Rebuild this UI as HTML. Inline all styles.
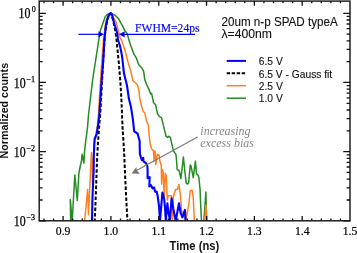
<!DOCTYPE html>
<html><head><meta charset="utf-8"><style>
html,body{margin:0;padding:0;background:#fff;}
svg{display:block;will-change:transform;}
</style></head><body>
<svg width="357" height="253" viewBox="0 0 357 253">
<rect width="357" height="253" fill="#fff"/>
<defs><clipPath id="c"><rect x="39.2" y="1.5" width="310.8" height="219.3"/></clipPath></defs>
<g clip-path="url(#c)" fill="none" stroke-linejoin="round" stroke-linecap="round">
<polyline points="70.7,222.0 70.3,199.5 72.2,221.5 74.8,175.0 77.3,200.5 78.9,173.0 80.5,165.0 81.5,160.8 82.1,154.2 83.9,163.1 84.5,151.9 85.6,141.9 86.7,134.0 87.5,127.6 88.5,115.0 90.6,97.0 92.6,80.0 95.7,60.0 98.0,45.0 98.8,40.0 99.4,35.0 100.1,31.5 102.9,23.2 105.2,16.9 106.7,15.0 108.3,14.0 110.5,13.3 113.7,14.6 115.3,15.6 117.2,17.2 118.8,19.2 120.5,22.3 122.5,25.8 124.9,30.6 127.2,33.7 128.0,36.6 128.9,40.0 130.9,45.9 133.8,53.8 136.2,57.8 138.8,64.7 141.7,67.7 143.7,71.6 144.7,79.5 146.7,84.5 149.6,90.9 150.6,93.9 151.6,93.3 153.6,102.8 155.6,104.8 157.5,113.7 159.5,116.6 161.5,117.6 162.5,121.6 164.4,129.7 166.1,136.3 167.6,137.4 168.7,136.3 170.4,137.4 171.3,141.7 172.6,147.2 173.4,150.7 176.0,154.7 176.5,160.0 177.2,169.5 179.1,170.6 180.9,178.5 183.4,157.1 184.6,169.0 186.2,183.2 187.8,184.0 188.6,183.2 190.2,165.0 191.0,165.8 193.3,177.7 195.4,161.1 196.5,173.7 198.1,175.3 198.9,177.7 199.2,180.8 200.1,190.0 200.5,200.8 201.5,222.0 203.8,222.0 205.9,192.0 206.6,222.0" stroke="#238c23" stroke-width="1.5"/>
<polyline points="84.6,222.0 87.6,189.5 88.5,215.0 90.1,180.0 91.4,152.5 92.2,170.0 92.7,185.0 93.3,160.0 94.2,143.0 95.4,138.7 97.3,126.0 98.3,117.0 100.5,80.0 101.9,60.0 103.3,42.0 104.2,34.0 105.2,26.0 106.5,20.0 107.8,16.5 109.5,13.8 111.0,13.5 113.0,16.5 116.6,23.2 118.5,31.7 120.3,38.0 121.5,40.0 124.9,49.9 127.9,61.7 130.9,71.6 132.8,80.5 136.2,83.5 137.4,85.0 138.8,90.0 139.8,98.8 141.7,106.7 143.3,111.7 144.7,112.7 146.7,121.6 147.7,123.5 148.3,125.0 149.1,134.9 150.3,144.8 151.9,149.5 153.4,150.3 154.2,160.6 155.0,151.1 155.8,164.5 157.4,154.2 159.0,155.0 159.8,160.6 161.3,166.0 161.6,184.0 162.3,169.5 163.2,172.0 164.2,196.0 165.3,173.2 166.3,176.0 167.3,200.0 168.3,195.7 171.4,195.7 172.4,221.0 173.4,196.7 175.5,189.5 177.5,189.5 179.0,184.4 180.6,196.7 181.6,211.1 183.7,214.2 185.7,221.0 188.7,204.9 190.3,190.5 192.3,190.5 193.3,198.7 194.4,222.0 204.6,222.0 205.9,205.0 207.1,222.0" stroke="#ff8020" stroke-width="1.5"/>
<polyline points="94.7,222.0 94.7,221.3 94.8,220.6 94.8,219.9 94.8,219.2 94.8,218.5 94.9,217.8 94.9,217.1 94.9,216.4 95.0,215.7 95.0,215.0 95.0,214.3 95.1,213.6 95.1,212.9 95.1,212.2 95.1,211.5 95.2,210.8 95.2,210.1 95.2,209.4 95.3,208.7 95.3,208.0 95.3,207.3 95.3,206.6 95.4,205.9 95.4,205.2 95.4,204.6 95.5,203.9 95.5,203.2 95.5,202.5 95.5,201.8 95.6,201.1 95.6,200.4 95.6,199.7 95.6,199.0 95.7,198.3 95.7,197.6 95.7,196.9 95.8,196.2 95.8,195.5 95.8,194.8 95.8,194.1 95.9,193.4 95.9,192.7 95.9,192.0 95.9,191.3 96.0,190.6 96.0,189.9 96.0,189.2 96.1,188.5 96.1,187.8 96.1,187.1 96.1,186.4 96.2,185.7 96.2,185.0 96.2,184.3 96.2,183.6 96.3,182.9 96.3,182.2 96.3,181.5 96.3,180.8 96.4,180.1 96.4,179.4 96.4,178.7 96.4,178.0 96.4,177.3 96.5,176.6 96.5,175.9 96.5,175.2 96.5,174.5 96.6,173.8 96.6,173.1 96.6,172.4 96.6,171.7 96.7,171.0 96.7,170.3 96.7,169.7 96.7,169.0 96.8,168.3 96.8,167.6 96.8,166.9 96.8,166.2 96.9,165.5 96.9,164.8 96.9,164.1 96.9,163.4 97.0,162.7 97.0,162.0 97.0,161.3 97.1,160.6 97.1,159.9 97.1,159.2 97.1,158.5 97.2,157.8 97.2,157.1 97.2,156.4 97.3,155.7 97.3,155.0 97.3,154.3 97.4,153.6 97.4,152.9 97.4,152.2 97.5,151.5 97.5,150.8 97.6,150.1 97.6,149.4 97.6,148.7 97.7,148.0 97.7,147.3 97.8,146.6 97.8,145.9 97.8,145.2 97.9,144.5 97.9,143.8 98.0,143.1 98.0,142.4 98.1,141.7 98.1,141.0 98.2,140.3 98.2,139.6 98.3,138.9 98.3,138.2 98.4,137.5 98.4,136.8 98.5,136.1 98.5,135.4 98.6,134.8 98.6,134.1 98.7,133.4 98.7,132.7 98.8,132.0 98.8,131.3 98.9,130.6 98.9,129.9 99.0,129.2 99.0,128.5 99.1,127.8 99.1,127.1 99.2,126.4 99.2,125.7 99.3,125.0 99.4,124.3 99.4,123.6 99.5,122.9 99.5,122.2 99.6,121.5 99.7,120.8 99.7,120.1 99.8,119.4 99.8,118.7 99.9,118.0 100.0,117.3 100.0,116.6 100.1,115.9 100.1,115.2 100.2,114.5 100.2,113.8 100.3,113.1 100.3,112.4 100.4,111.7 100.4,111.0 100.4,110.3 100.5,109.6 100.5,108.9 100.6,108.2 100.6,107.5 100.7,106.8 100.7,106.1 100.7,105.4 100.8,104.7 100.8,104.0 100.9,103.3 100.9,102.6 100.9,101.9 101.0,101.2 101.0,100.5 101.0,99.9 101.1,99.2 101.1,98.5 101.2,97.8 101.2,97.1 101.2,96.4 101.3,95.7 101.3,95.0 101.3,94.3 101.4,93.6 101.4,92.9 101.4,92.2 101.5,91.5 101.5,90.8 101.6,90.1 101.6,89.4 101.6,88.7 101.7,88.0 101.7,87.3 101.7,86.6 101.8,85.9 101.8,85.2 101.8,84.5 101.9,83.8 101.9,83.1 102.0,82.4 102.0,81.7 102.0,81.0 102.1,80.3 102.1,79.6 102.2,78.9 102.2,78.2 102.2,77.5 102.3,76.8 102.3,76.1 102.4,75.4 102.4,74.7 102.4,74.0 102.5,73.3 102.5,72.6 102.6,71.9 102.6,71.2 102.6,70.5 102.7,69.8 102.7,69.1 102.8,68.4 102.8,67.7 102.8,67.0 102.9,66.3 102.9,65.6 103.0,65.0 103.0,64.3 103.0,63.6 103.1,62.9 103.1,62.2 103.2,61.5 103.2,60.8 103.2,60.1 103.3,59.4 103.3,58.7 103.4,58.0 103.4,57.3 103.5,56.6 103.5,55.9 103.5,55.2 103.6,54.5 103.6,53.8 103.7,53.1 103.7,52.4 103.8,51.7 103.8,51.0 103.8,50.3 103.9,49.6 103.9,48.9 104.0,48.2 104.0,47.5 104.1,46.8 104.1,46.1 104.2,45.4 104.2,44.7 104.3,44.0 104.3,43.3 104.4,42.6 104.4,41.9 104.5,41.2 104.5,40.5 104.6,39.8 104.6,39.1 104.7,38.4 104.7,37.7 104.8,37.0 104.8,36.3 104.9,35.6 105.0,34.9 105.0,34.2 105.1,33.5 105.2,32.8 105.3,32.1 105.4,31.4 105.5,30.7 105.6,30.1 105.7,29.4 105.8,28.7 105.9,28.0 106.0,27.3 106.2,26.6 106.3,25.9 106.4,25.2 106.5,24.5 106.7,23.8 106.8,23.1 106.9,22.4 107.1,21.7 107.2,21.0 107.4,20.3 107.5,19.6 107.7,18.9 107.9,18.2 108.2,17.5 108.5,16.8 108.8,16.1 109.2,15.4 109.7,14.7 110.1,14.0 110.6,13.3 110.9,14.0 111.2,14.7 111.5,15.4 111.8,16.1 112.0,16.8 112.2,17.5 112.5,18.2 112.7,18.9 112.8,19.6 113.0,20.3 113.2,21.0 113.4,21.7 113.5,22.4 113.7,23.1 113.8,23.8 114.0,24.5 114.1,25.2 114.2,25.9 114.4,26.6 114.5,27.3 114.7,28.0 114.8,28.7 114.9,29.4 115.1,30.1 115.2,30.7 115.3,31.4 115.4,32.1 115.6,32.8 115.7,33.5 115.8,34.2 115.9,34.9 116.0,35.6 116.1,36.3 116.2,37.0 116.3,37.7 116.3,38.4 116.4,39.1 116.5,39.8 116.6,40.5 116.6,41.2 116.7,41.9 116.8,42.6 116.8,43.3 116.9,44.0 117.0,44.7 117.1,45.4 117.1,46.1 117.2,46.8 117.3,47.5 117.4,48.2 117.4,48.9 117.5,49.6 117.6,50.3 117.6,51.0 117.7,51.7 117.8,52.4 117.8,53.1 117.9,53.8 118.0,54.5 118.1,55.2 118.1,55.9 118.2,56.6 118.3,57.3 118.3,58.0 118.4,58.7 118.5,59.4 118.5,60.1 118.6,60.8 118.7,61.5 118.7,62.2 118.8,62.9 118.9,63.6 118.9,64.3 119.0,65.0 119.0,65.6 119.1,66.3 119.2,67.0 119.2,67.7 119.3,68.4 119.3,69.1 119.4,69.8 119.5,70.5 119.5,71.2 119.6,71.9 119.6,72.6 119.7,73.3 119.7,74.0 119.8,74.7 119.9,75.4 119.9,76.1 120.0,76.8 120.0,77.5 120.1,78.2 120.1,78.9 120.2,79.6 120.2,80.3 120.3,81.0 120.3,81.7 120.4,82.4 120.4,83.1 120.5,83.8 120.5,84.5 120.6,85.2 120.6,85.9 120.6,86.6 120.7,87.3 120.7,88.0 120.8,88.7 120.8,89.4 120.9,90.1 120.9,90.8 120.9,91.5 121.0,92.2 121.0,92.9 121.1,93.6 121.1,94.3 121.1,95.0 121.2,95.7 121.2,96.4 121.2,97.1 121.3,97.8 121.3,98.5 121.4,99.2 121.4,99.9 121.4,100.5 121.5,101.2 121.5,101.9 121.5,102.6 121.6,103.3 121.6,104.0 121.6,104.7 121.7,105.4 121.7,106.1 121.7,106.8 121.7,107.5 121.8,108.2 121.8,108.9 121.8,109.6 121.9,110.3 121.9,111.0 121.9,111.7 121.9,112.4 122.0,113.1 122.0,113.8 122.0,114.5 122.0,115.2 122.1,115.9 122.1,116.6 122.1,117.3 122.1,118.0 122.2,118.7 122.2,119.4 122.2,120.1 122.3,120.8 122.3,121.5 122.3,122.2 122.4,122.9 122.4,123.6 122.4,124.3 122.4,125.0 122.5,125.7 122.5,126.4 122.5,127.1 122.6,127.8 122.6,128.5 122.7,129.2 122.7,129.9 122.7,130.6 122.8,131.3 122.8,132.0 122.9,132.7 122.9,133.4 123.0,134.1 123.0,134.8 123.1,135.4 123.1,136.1 123.2,136.8 123.2,137.5 123.3,138.2 123.3,138.9 123.4,139.6 123.4,140.3 123.5,141.0 123.5,141.7 123.5,142.4 123.6,143.1 123.6,143.8 123.7,144.5 123.7,145.2 123.7,145.9 123.8,146.6 123.8,147.3 123.8,148.0 123.9,148.7 123.9,149.4 124.0,150.1 124.0,150.8 124.0,151.5 124.1,152.2 124.1,152.9 124.1,153.6 124.2,154.3 124.2,155.0 124.2,155.7 124.3,156.4 124.3,157.1 124.3,157.8 124.4,158.5 124.4,159.2 124.4,159.9 124.5,160.6 124.5,161.3 124.5,162.0 124.6,162.7 124.6,163.4 124.6,164.1 124.6,164.8 124.7,165.5 124.7,166.2 124.7,166.9 124.8,167.6 124.8,168.3 124.8,169.0 124.9,169.7 124.9,170.3 124.9,171.0 125.0,171.7 125.0,172.4 125.0,173.1 125.0,173.8 125.1,174.5 125.1,175.2 125.1,175.9 125.2,176.6 125.2,177.3 125.2,178.0 125.3,178.7 125.3,179.4 125.3,180.1 125.4,180.8 125.4,181.5 125.4,182.2 125.5,182.9 125.5,183.6 125.5,184.3 125.6,185.0 125.6,185.7 125.6,186.4 125.7,187.1 125.7,187.8 125.7,188.5 125.8,189.2 125.8,189.9 125.8,190.6 125.9,191.3 125.9,192.0 125.9,192.7 126.0,193.4 126.0,194.1 126.0,194.8 126.1,195.5 126.1,196.2 126.2,196.9 126.2,197.6 126.2,198.3 126.3,199.0 126.3,199.7 126.3,200.4 126.4,201.1 126.4,201.8 126.4,202.5 126.5,203.2 126.5,203.9 126.6,204.6 126.6,205.2 126.6,205.9 126.7,206.6 126.7,207.3 126.7,208.0 126.8,208.7 126.8,209.4 126.9,210.1 126.9,210.8 126.9,211.5 127.0,212.2 127.0,212.9 127.0,213.6 127.1,214.3 127.1,215.0 127.2,215.7 127.2,216.4 127.2,217.1 127.3,217.8 127.3,218.5 127.3,219.2 127.4,219.9 127.4,220.6 127.5,221.3 127.5,222.0" stroke="#000" stroke-width="2" stroke-dasharray="3.5 2" stroke-linecap="butt"/>
<polyline points="92.0,222.0 92.4,200.0 93.0,185.0 93.7,170.0 93.8,155.0 94.6,139.0 96.7,134.0 98.2,124.5 99.3,115.0 100.3,100.0 101.8,78.0 103.3,60.0 104.3,42.0 105.0,34.0 105.7,27.0 107.1,20.0 108.9,15.2 110.7,13.1 111.8,14.0 112.6,17.5 115.0,25.8 117.3,33.5 118.0,40.0 120.0,45.9 122.0,55.8 124.0,73.6 125.5,79.5 126.9,85.0 128.9,98.8 130.9,106.7 132.8,118.6 134.2,131.4 137.5,133.5 139.6,140.8 139.9,153.9 140.9,157.4 141.9,160.0 143.2,157.8 143.5,161.3 144.9,162.3 146.4,163.8 147.4,166.3 147.6,170.0 147.6,178.2 149.7,177.2 149.3,186.5 150.8,185.0 152.5,188.3 154.1,187.5 155.0,191.6 156.6,191.6 157.5,195.0 159.1,206.6 160.0,221.0 162.4,192.5 164.1,198.3 164.9,206.6 165.8,220.0 167.4,203.3 168.3,211.6 169.9,220.0 171.6,198.3 173.2,208.2 175.7,221.0 179.0,203.3 180.7,213.2 182.4,217.4 184.9,209.9 185.7,222.0" stroke="#0000ff" stroke-width="2.1"/>
</g>
<g stroke="#111" stroke-width="1.3" fill="none">
<path d="M43.98,220.8V218.60M43.98,1.1V3.30M53.54,220.8V218.60M53.54,1.1V3.30M63.11,220.8V216.10M63.11,1.1V5.80M72.67,220.8V218.60M72.67,1.1V3.30M82.23,220.8V218.60M82.23,1.1V3.30M91.80,220.8V218.60M91.80,1.1V3.30M101.36,220.8V218.60M101.36,1.1V3.30M110.92,220.8V216.10M110.92,1.1V5.80M120.49,220.8V218.60M120.49,1.1V3.30M130.05,220.8V218.60M130.05,1.1V3.30M139.61,220.8V218.60M139.61,1.1V3.30M149.18,220.8V218.60M149.18,1.1V3.30M158.74,220.8V216.10M158.74,1.1V5.80M168.30,220.8V218.60M168.30,1.1V3.30M177.86,220.8V218.60M177.86,1.1V3.30M187.43,220.8V218.60M187.43,1.1V3.30M196.99,220.8V218.60M196.99,1.1V3.30M206.55,220.8V216.10M206.55,1.1V5.80M216.12,220.8V218.60M216.12,1.1V3.30M225.68,220.8V218.60M225.68,1.1V3.30M235.24,220.8V218.60M235.24,1.1V3.30M244.81,220.8V218.60M244.81,1.1V3.30M254.37,220.8V216.10M254.37,1.1V5.80M263.93,220.8V218.60M263.93,1.1V3.30M273.50,220.8V218.60M273.50,1.1V3.30M283.06,220.8V218.60M283.06,1.1V3.30M292.62,220.8V218.60M292.62,1.1V3.30M302.18,220.8V216.10M302.18,1.1V5.80M311.75,220.8V218.60M311.75,1.1V3.30M321.31,220.8V218.60M321.31,1.1V3.30M330.87,220.8V218.60M330.87,1.1V3.30M340.44,220.8V218.60M340.44,1.1V3.30M39.2,220.81H45.90M350.0,220.81H343.30M39.2,199.99H42.60M350.0,199.99H346.60M39.2,187.81H42.60M350.0,187.81H346.60M39.2,179.17H42.60M350.0,179.17H346.60M39.2,172.46H42.60M350.0,172.46H346.60M39.2,166.99H42.60M350.0,166.99H346.60M39.2,162.35H42.60M350.0,162.35H346.60M39.2,158.34H42.60M350.0,158.34H346.60M39.2,154.81H42.60M350.0,154.81H346.60M39.2,151.64H45.90M350.0,151.64H343.30M39.2,130.82H42.60M350.0,130.82H346.60M39.2,118.64H42.60M350.0,118.64H346.60M39.2,110.00H42.60M350.0,110.00H346.60M39.2,103.29H42.60M350.0,103.29H346.60M39.2,97.82H42.60M350.0,97.82H346.60M39.2,93.18H42.60M350.0,93.18H346.60M39.2,89.17H42.60M350.0,89.17H346.60M39.2,85.64H42.60M350.0,85.64H346.60M39.2,82.47H45.90M350.0,82.47H343.30M39.2,61.65H42.60M350.0,61.65H346.60M39.2,49.47H42.60M350.0,49.47H346.60M39.2,40.83H42.60M350.0,40.83H346.60M39.2,34.12H42.60M350.0,34.12H346.60M39.2,28.65H42.60M350.0,28.65H346.60M39.2,24.01H42.60M350.0,24.01H346.60M39.2,20.00H42.60M350.0,20.00H346.60M39.2,16.47H42.60M350.0,16.47H346.60M39.2,13.30H45.90M350.0,13.30H343.30"/>
</g>
<rect x="39.2" y="1.1" width="310.8" height="219.7" fill="none" stroke="#111" stroke-width="1.4"/>
<!-- y labels -->
<g font-family="Liberation Serif" fill="#000" stroke="#000" stroke-width="0.25">
<text x="18.5" y="17.9" font-size="13.6" textLength="11.9" lengthAdjust="spacingAndGlyphs">10</text><text x="31.7" y="12.2" font-size="8.6" textLength="4.0" lengthAdjust="spacingAndGlyphs">0</text>
<text x="13.7" y="87.7" font-size="13.6" textLength="11.9" lengthAdjust="spacingAndGlyphs">10</text><text x="26.5" y="81.8" font-size="8.6" textLength="8.6" lengthAdjust="spacingAndGlyphs">−1</text>
<text x="13.7" y="156.9" font-size="13.6" textLength="11.9" lengthAdjust="spacingAndGlyphs">10</text><text x="26.5" y="151" font-size="8.6" textLength="8.6" lengthAdjust="spacingAndGlyphs">−2</text>
<text x="13.7" y="226.1" font-size="13.6" textLength="11.9" lengthAdjust="spacingAndGlyphs">10</text><text x="26.5" y="220.2" font-size="8.6" textLength="8.6" lengthAdjust="spacingAndGlyphs">−3</text>
</g>
<g font-family="Liberation Serif" font-size="11.7" fill="#000" stroke="#000" stroke-width="0.2" text-anchor="middle">
<text x="63.1" y="235">0.9</text>
<text x="110.9" y="235">1.0</text>
<text x="158.7" y="235">1.1</text>
<text x="206.6" y="235">1.2</text>
<text x="254.4" y="235">1.3</text>
<text x="302.2" y="235">1.4</text>
<text x="350.0" y="235">1.5</text>
</g>
<text x="169.6" y="250.4" font-family="Liberation Sans" font-weight="bold" font-size="11.9" fill="#111" textLength="49.6" lengthAdjust="spacingAndGlyphs">Time (ns)</text>
<text transform="translate(8.4,158.4) rotate(-90)" font-family="Liberation Sans" font-weight="bold" font-size="11.8" textLength="95.5" lengthAdjust="spacingAndGlyphs" fill="#111">Normalized counts</text>
<!-- title -->
<g font-family="Liberation Sans" fill="#111" stroke="#111" stroke-width="0.12">
<text x="221.5" y="25.6" font-size="12.2" textLength="116.3" lengthAdjust="spacingAndGlyphs">20um n-p SPAD typeA</text>
<text x="221.5" y="37.9" font-size="12.2" textLength="50.5" lengthAdjust="spacingAndGlyphs">λ=400nm</text>
</g>
<!-- legend -->
<g stroke-width="2" fill="none">
<path d="M226.7,60.9H246" stroke="#0000ff"/>
<path d="M226.7,73.3H246" stroke="#000" stroke-dasharray="3.4 1.6"/>
<path d="M226.7,85.7H246" stroke="#ff8020" stroke-width="1.5"/>
<path d="M226.7,98.2H246" stroke="#238c23" stroke-width="1.5"/>
</g>
<g font-family="Liberation Sans" font-size="10.7" fill="#111" stroke="#111" stroke-width="0.12" lengthAdjust="spacingAndGlyphs">
<text x="258.8" y="65.2" textLength="24" lengthAdjust="spacingAndGlyphs">6.5 V</text>
<text x="258.8" y="77.5" textLength="73.4" lengthAdjust="spacingAndGlyphs">6.5 V - Gauss fit</text>
<text x="258.8" y="89.8" textLength="24" lengthAdjust="spacingAndGlyphs">2.5 V</text>
<text x="258.8" y="102.1" textLength="24" lengthAdjust="spacingAndGlyphs">1.0 V</text>
</g>
<!-- FWHM -->
<g stroke="#0000ff" stroke-width="1.2" fill="#0000ff">
<path d="M78.4,34.3H99" fill="none"/>
<path d="M103.9,34.3L98.5,31.2L98.5,37.4Z" stroke="none"/>
<path d="M124,34.3H195" fill="none"/>
<path d="M119.1,34.3L124.6,31.2L124.6,37.4Z" stroke="none"/>
</g>
<text x="135" y="32.2" font-family="Liberation Serif" font-size="11.8" fill="#0000ff" stroke="#0000ff" stroke-width="0.15" textLength="64.5" lengthAdjust="spacingAndGlyphs">FWHM=24ps</text>
<!-- increasing excess bias -->
<g stroke="#777" stroke-width="1.1" fill="#777">
<path d="M136.5,170.5L197.6,136.9" fill="none"/>
<path d="M131.6,173.4L136.3,166.9L136.9,170.6L140.0,173.7Z" stroke="none"/>
</g>
<g font-family="Liberation Serif" font-style="italic" font-size="12" fill="#888">
<text x="200.3" y="134.6">increasing</text>
<text x="200.3" y="147.4">excess bias</text>
</g>
</svg>
</body></html>
